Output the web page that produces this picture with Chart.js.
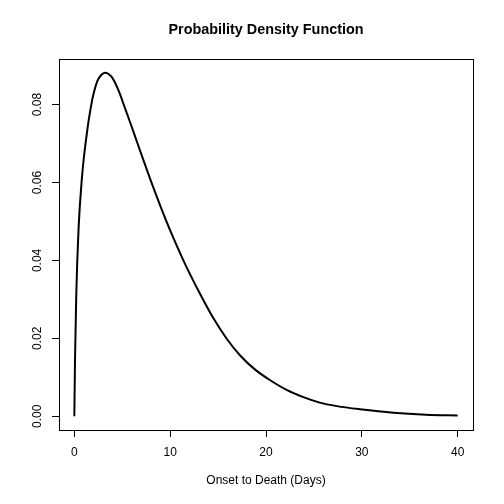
<!DOCTYPE html>
<html>
<head>
<meta charset="utf-8">
<script src="https://cdn.jsdelivr.net/npm/chart.js@4.4.1/dist/chart.umd.min.js"></script>
<style>
  html, body { margin: 0; padding: 0; background: #fff; }
  canvas { display: block; }
</style>
</head>
<body>
<canvas id="pdfChart" width="504" height="504"></canvas>
<script>
// values
const days = [0, 0.07, 0.2, 0.45, 0.8, 1.0, 1.3, 1.5, 1.85, 2.0, 2.4, 2.8, 3.2, 3.9, 4.6, 5.3, 5.8, 6.2, 7.2, 7.9, 8.6, 9.0, 10, 11.4, 13.1, 14.5, 15.9, 17.3, 18.9, 20.4, 22.2, 23.9, 25.6, 27.4, 29.8, 33.3, 36.7, 40];
const density = [0, 0.0144, 0.031, 0.0486, 0.0614, 0.0665, 0.0725, 0.076, 0.081, 0.0827, 0.086, 0.0876, 0.0882, 0.0871, 0.0837, 0.079, 0.0756, 0.0728, 0.0658, 0.061, 0.0564, 0.0538, 0.0477, 0.0399, 0.0315, 0.0252, 0.0199, 0.0156, 0.0119, 0.0093, 0.0067, 0.0049, 0.0035, 0.0026, 0.0018, 0.0009, 0.0004, 0.0002];

const xTicks = [0, 10, 20, 30, 40];
const yTicks = [0, 0.02, 0.04, 0.06, 0.08];

const chartTitle = "Probability Density Function";
const xTitle = "Onset to Death (Days)";

const FONT = "'Liberation Sans', Arial, sans-serif";

const points = days.map((d, i) => ({ x: d, y: density[i] }));

// box, y labels, titles in R base style
const rDecor = {
  id: "rDecor",
  afterDraw(chart) {
    const { ctx, chartArea: a, scales } = chart;
    ctx.save();
    ctx.strokeStyle = "#000";
    ctx.lineWidth = 1;
    ctx.strokeRect(a.left + 0.5, a.top + 0.5, a.right - a.left, a.bottom - a.top);

    ctx.fillStyle = "#000";
    ctx.font = "12px " + FONT;
    ctx.textAlign = "center";
    ctx.textBaseline = "middle";
    yTicks.forEach((v) => {
      const py = scales.y.getPixelForValue(v);
      ctx.save();
      ctx.translate(38, py);
      ctx.rotate(-Math.PI / 2);
      ctx.fillText(v.toFixed(2), 0, 0);
      ctx.restore();
    });

    const cx = (a.left + a.right) / 2;
    ctx.fillText(xTitle, cx, 481);

    ctx.font = "bold 14.4px " + FONT;
    ctx.fillText(chartTitle, cx, 30);
    ctx.restore();
  }
};

new Chart(document.getElementById("pdfChart"), {
  type: "line",
  data: {
    datasets: [{
      data: points,
      borderColor: "#000",
      borderWidth: 2,
      pointRadius: 0,
      fill: false,
      cubicInterpolationMode: "monotone"
    }]
  },
  options: {
    responsive: false,
    animation: false,
    devicePixelRatio: 1,
    layout: { padding: { top: 59, right: 31, left: 0, bottom: 0 } },
    plugins: {
      legend: { display: false },
      tooltip: { enabled: false },
      title: { display: false }
    },
    scales: {
      x: {
        type: "linear",
        min: -1.6,
        max: 41.6,
        afterBuildTicks: (s) => { s.ticks = xTicks.map((v) => ({ value: v })); },
        afterFit: (s) => { s.height = 74; },
        border: { display: false },
        grid: { drawOnChartArea: false, drawTicks: true, tickLength: 7, color: "#000", tickColor: "#000" },
        ticks: { color: "#000", font: { family: FONT, size: 12 }, padding: 8, maxRotation: 0 }
      },
      y: {
        type: "linear",
        min: -0.00353,
        max: 0.0917,
        afterBuildTicks: (s) => { s.ticks = yTicks.map((v) => ({ value: v })); },
        afterFit: (s) => { s.width = 59; },
        border: { display: false },
        grid: { drawOnChartArea: false, drawTicks: true, tickLength: 7, color: "#000", tickColor: "#000" },
        ticks: { display: false }
      }
    }
  },
  plugins: [rDecor]
});
</script>
</body>
</html>
